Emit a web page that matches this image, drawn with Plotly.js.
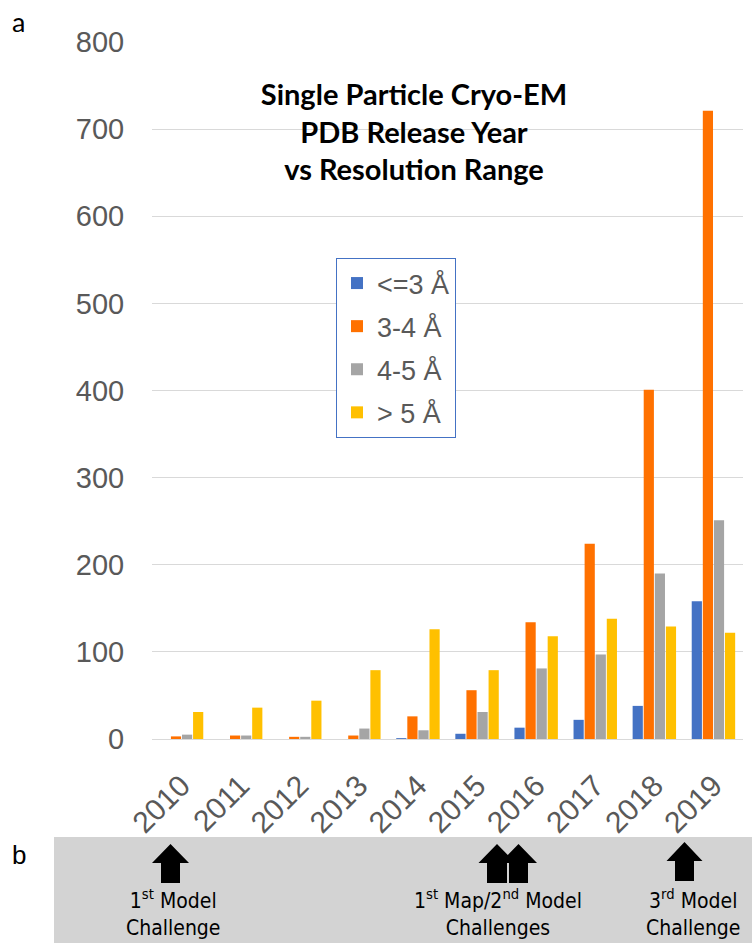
<!DOCTYPE html>
<html>
<head>
<meta charset="utf-8">
<script src="https://cdn.plot.ly/plotly-3.0.1.min.js"></script>
<style>html,body{margin:0;padding:0;background:#fff;}#chart{width:752px;height:943px;}</style>
</head>
<body>
<div id="chart"></div>
<script>
// ---- data ----
var years = ['2010','2011','2012','2013','2014','2015','2016','2017','2018','2019'];
var seriesNames = ['<=3 Å', '3-4 Å', '4-5 Å', '> 5 Å'];
var le3A  = [0, 0, 0, 0, 1, 6, 13, 22, 38, 158];
var r3to4 = [3, 4, 2.5, 4, 26, 56, 134, 224, 401, 721];
var r4to5 = [5, 4, 2.5, 12, 10, 31, 81, 97, 190, 251];
var gt5A  = [31, 36, 44, 79, 126, 79, 118, 138, 129, 122];
var yTickVals = [0, 100, 200, 300, 400, 500, 600, 700, 800];

var colors = ['#4472C4', '#FF7100', '#A5A5A5', '#FFC000'];
var allSeries = [le3A, r3to4, r4to5, gt5A];

var traces = allSeries.map(function (vals, i) {
  return {
    type: 'bar',
    x: years,
    y: vals,
    name: seriesNames[i],
    legendgroup: 'g' + i,
    marker: {color: colors[i], line: {width: 0}},
    hoverinfo: 'x+y+name'
  };
});

// plot area geometry (pixels) -> paper coords helpers for decorations
var L = 152, R = 9, T = 42, B = 204, W = 752, H = 943;
var pw = W - L - R, ph = H - T - B;
function px(x) { return (x - L) / pw; }
function py(y) { return (H - B - y) / ph; }

function arrowPath(cx, tipY, headHalf, shaftHalf, headBaseY, bottomY) {
  var pts = [
    [cx, tipY], [cx + headHalf, headBaseY], [cx + shaftHalf, headBaseY],
    [cx + shaftHalf, bottomY], [cx - shaftHalf, bottomY],
    [cx - shaftHalf, headBaseY], [cx - headHalf, headBaseY]
  ];
  return 'M' + pts.map(function (p) { return px(p[0]).toFixed(5) + ',' + py(p[1]).toFixed(5); }).join('L') + 'Z';
}

var shapes = [
  {type: 'rect', xref: 'paper', yref: 'paper', x0: px(54), x1: px(760), y0: py(837), y1: py(950),
   fillcolor: '#D3D3D3', line: {width: 0}, layer: 'below'},
  {type: 'path', xref: 'paper', yref: 'paper', path: arrowPath(170.5, 844, 18.5, 9.5, 863, 883), fillcolor: '#000', line: {width: 0}},
  {type: 'path', xref: 'paper', yref: 'paper', path: arrowPath(497, 844, 18.5, 10, 863, 883), fillcolor: '#000', line: {width: 0}},
  {type: 'path', xref: 'paper', yref: 'paper', path: arrowPath(518.5, 844, 18.5, 9.5, 863, 883), fillcolor: '#000', line: {width: 0}},
  {type: 'path', xref: 'paper', yref: 'paper', path: arrowPath(684.5, 842, 18, 9.5, 861, 881), fillcolor: '#000', line: {width: 0}}
];

var narrow = '"DejaVu Sans Condensed", "Liberation Sans Narrow", "Arial Narrow", sans-serif';
var annotations = [
  {text: 'a', xref: 'paper', yref: 'paper', x: px(18), y: py(22), xanchor: 'center', yanchor: 'middle',
   showarrow: false, font: {family: 'Lato, "Liberation Sans", sans-serif', size: 27, color: '#000'}},
  {text: 'b', xref: 'paper', yref: 'paper', x: px(19), y: py(855), xanchor: 'center', yanchor: 'middle',
   showarrow: false, font: {family: '"Liberation Sans", Arial, sans-serif', size: 26, color: '#000'}},
  {text: '1<sup>st</sup> Model<br>Challenge', xref: 'paper', yref: 'paper', x: px(173), y: py(913),
   xanchor: 'center', yanchor: 'middle', align: 'center', showarrow: false,
   font: {family: narrow, size: 21, color: '#000'}},
  {text: '1<sup>st</sup> Map/2<sup>nd</sup> Model<br>Challenges', xref: 'paper', yref: 'paper', x: px(498), y: py(913),
   xanchor: 'center', yanchor: 'middle', align: 'center', showarrow: false,
   font: {family: narrow, size: 21, color: '#000'}},
  {text: '3<sup>rd</sup> Model<br>Challenge', xref: 'paper', yref: 'paper', x: px(693), y: py(913),
   xanchor: 'center', yanchor: 'middle', align: 'center', showarrow: false,
   font: {family: narrow, size: 21, color: '#000'}}
];

var layout = {
  width: W, height: H,
  margin: {l: L, r: R, t: T, b: B, pad: 0},
  paper_bgcolor: '#fff', plot_bgcolor: '#fff',
  title: {
    text: 'Single Particle Cryo-EM<br>PDB Release Year<br>vs Resolution Range',
    xref: 'paper', yref: 'paper', x: px(414), y: py(105), xanchor: 'center', yanchor: 'middle',
    font: {family: 'Lato, "Open Sans", sans-serif', size: 29, color: '#000', weight: 'bold'}
  },
  barmode: 'group', bargap: 0.25, bargroupgap: 0.08,
  xaxis: {
    type: 'category', tickangle: -45, showgrid: false, zeroline: false, showline: false,
    ticks: 'outside', ticklen: 16, tickcolor: 'rgba(0,0,0,0)',
    tickfont: {family: '"Liberation Sans", Arial, sans-serif', size: 30, color: '#595959'},
    fixedrange: true
  },
  yaxis: {
    range: [0, 800], tickvals: yTickVals, showgrid: true, gridcolor: '#D9D9D9', gridwidth: 1,
    zeroline: true, zerolinecolor: '#D9D9D9', zerolinewidth: 1, showline: false,
    ticks: 'outside', ticklen: 21, tickcolor: 'rgba(0,0,0,0)',
    tickfont: {family: '"Liberation Sans", Arial, sans-serif', size: 29, color: '#595959'},
    fixedrange: true
  },
  legend: {
    x: px(336), y: py(258), xanchor: 'left', yanchor: 'top',
    bgcolor: '#fff', bordercolor: '#4472C4', borderwidth: 1,
    font: {family: '"Liberation Sans", Arial, sans-serif', size: 27, color: '#595959'},
    traceorder: 'grouped', tracegroupgap: 5
  },
  shapes: shapes,
  annotations: annotations,
  showlegend: true
};

Plotly.newPlot('chart', traces, layout, {displayModeBar: false, staticPlot: true});
</script>
</body>
</html>
